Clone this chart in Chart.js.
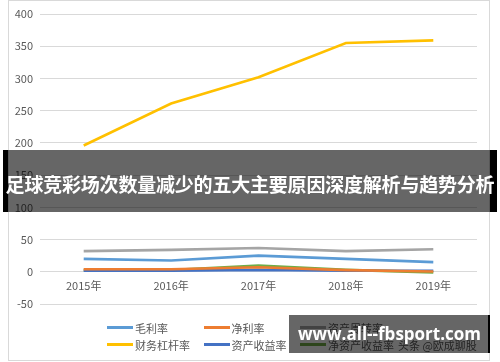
<!DOCTYPE html>
<html><head><meta charset="utf-8">
<script src="https://cdn.jsdelivr.net/npm/chart.js@4/dist/chart.umd.min.js"></script>
<style>
html,body{margin:0;padding:0;background:#fff;}
#wrap{position:relative;width:500px;height:362px;overflow:hidden;font-family:"Noto Sans CJK SC",sans-serif;}
#frame{position:absolute;left:8px;top:0;width:482px;height:361px;border:1px solid #d9d9d9;box-sizing:border-box;}
#c{position:absolute;left:0;top:0;}
#legend{position:absolute;left:107px;top:319px;display:grid;grid-template-columns:96.5px 96.5px 180px;grid-auto-rows:17px;font-size:11px;color:#595959;}
.li{display:flex;align-items:center;white-space:nowrap;}
.sw{width:26px;height:3px;margin-right:2px;}
.extra{margin-left:4px;}
#banner{position:absolute;left:3px;top:150px;width:494px;height:62px;background:rgba(0,0,0,0.6);}
#banner .bl{position:absolute;left:0;top:0;width:5px;height:100%;background:#000;}
#banner .br{position:absolute;right:0;top:0;width:7px;height:100%;background:#000;}
#banner .t{position:absolute;left:0;right:0;top:0;height:100%;display:flex;align-items:center;justify-content:center;color:#fff;font-weight:bold;font-size:19px;white-space:nowrap;letter-spacing:-0.2px;padding-top:4px;box-sizing:border-box;}
#wm{position:absolute;left:289px;top:315px;width:201px;height:38px;background:rgba(0,0,0,0.6);}
#wm .br{position:absolute;right:0;top:0;width:2px;height:100%;background:#000;}
#wm .t{position:absolute;left:0;right:0;top:0;height:100%;display:flex;align-items:center;justify-content:center;color:#fff;font-weight:bold;font-size:17px;font-family:"Open Sans",sans-serif;white-space:nowrap;padding-bottom:2px;box-sizing:border-box;}
</style></head>
<body>
<div id="wrap">
<div id="frame"></div>
<canvas id="c" width="500" height="362"></canvas>
<div id="legend"></div>
<div id="banner"><div class="bl"></div><div class="br"></div><div class="t">足球竞彩场次数量减少的五大主要原因深度解析与趋势分析</div></div>
<div id="wm"><div class="br"></div><div class="t">www.all--fbsport.com</div></div>
</div>
<script>
const years = ['2015年','2016年','2017年','2018年','2019年'];
const grossMargin   = [20, 17.5, 25, 20, 15];      // 毛利率
const netMargin     = [4, 4, 7, 2.5, 0.5];         // 净利率
const assetTurnover = [32, 34, 37, 32, 35];        // 资产周转率
const leverage      = [196, 261, 302, 355, 359];   // 财务杠杆率
const roa           = [1.5, 1.5, 3, 1.5, 1.5];     // 资产收益率
const roe           = [2.5, 2.5, 9.5, 3, -1];      // 净资产收益率
const yTicks = {min: -50, max: 400, step: 50};

const seriesNames = ['毛利率','净利率','资产周转率','财务杠杆率','资产收益率','净资产收益率'];
const seriesData = [grossMargin, netMargin, assetTurnover, leverage, roa, roe];
const seriesColors = ['#5B9BD5','#ED7D31','#A5A5A5','#FFC000','#4472C4','#70AD47'];

const datasets = seriesNames.map((n,i)=>({
  label:n, data:seriesData[i], borderColor:seriesColors[i], backgroundColor:seriesColors[i],
  borderWidth:2.6, pointRadius:0, tension:0, fill:false
}));

new Chart(document.getElementById('c'), {
  type:'line',
  data:{labels:years, datasets},
  options:{
    responsive:false, animation:false, devicePixelRatio:1,
    layout:{padding:{left:0,right:23,top:14,bottom:58}},
    plugins:{legend:{display:false}, tooltip:{enabled:false}},
    scales:{
      y:{min:yTicks.min,max:yTicks.max,
         ticks:{stepSize:yTicks.step,color:'#595959',font:{family:'"Noto Sans CJK SC"',size:11},padding:7},
         grid:{color:'#d9d9d9',drawTicks:false,lineWidth:1},
         border:{display:false},
         afterFit:(s)=>{s.width=40;}},
      x:{position:{y:0}, offset:true,
         ticks:{color:'#595959',font:{family:'"Noto Sans CJK SC"',size:11},padding:7,maxRotation:0},
         grid:{display:false,drawTicks:false},
         border:{display:false},
         afterFit:(s)=>{s.height=0;}}
    }
  }
});

const lg = document.getElementById('legend');
const order = [0,1,2,3,4,5];
order.forEach(i=>{
  const d=document.createElement('div'); d.className='li';
  d.innerHTML='<span class="sw" style="background:'+seriesColors[i]+'"></span><span>'+seriesNames[i]+'</span>'+(i===5?'<span class="extra">头条 @欧成聊股</span>':'');
  lg.appendChild(d);
});
</script>
</body></html>
